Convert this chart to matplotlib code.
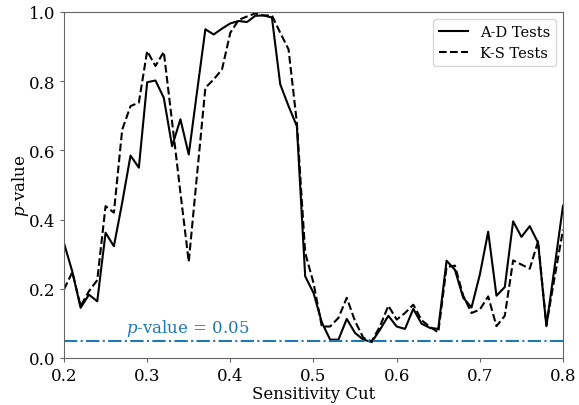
import numpy as np
import matplotlib
matplotlib.use('Agg')
import matplotlib.pyplot as plt

plt.rcParams['font.family'] = 'DejaVu Serif'
plt.rcParams['mathtext.fontset'] = 'dejavuserif'

# sensitivity cuts 0.20 .. 0.80, step 0.01
cuts = np.round(np.arange(0.20, 0.805, 0.01), 2)

ad_p = [0.332, 0.250, 0.145, 0.183, 0.164, 0.362, 0.323, 0.449, 0.585, 0.550,
        0.797, 0.802, 0.752, 0.612, 0.690, 0.588, 0.770, 0.950, 0.935, 0.952,
        0.967, 0.974, 0.971, 0.989, 0.990, 0.984, 0.791, 0.728, 0.670, 0.236,
        0.188, 0.103, 0.053, 0.053, 0.113, 0.072, 0.053, 0.046, 0.082, 0.122,
        0.091, 0.084, 0.142, 0.099, 0.087, 0.084, 0.281, 0.255, 0.174, 0.146,
        0.241, 0.365, 0.180, 0.205, 0.395, 0.350, 0.381, 0.333, 0.092, 0.265,
        0.440]

ks_p = [0.198, 0.248, 0.150, 0.193, 0.225, 0.439, 0.420, 0.660, 0.728, 0.738,
        0.887, 0.844, 0.885, 0.682, 0.478, 0.278, 0.530, 0.781, 0.805, 0.834,
        0.940, 0.977, 0.987, 0.996, 0.990, 0.990, 0.940, 0.892, 0.680, 0.304,
        0.217, 0.091, 0.091, 0.116, 0.174, 0.106, 0.058, 0.048, 0.092, 0.151,
        0.111, 0.130, 0.154, 0.109, 0.090, 0.074, 0.263, 0.267, 0.180, 0.130,
        0.140, 0.178, 0.092, 0.122, 0.282, 0.270, 0.258, 0.337, 0.095, 0.235,
        0.371]

alpha = 0.05

fig = plt.figure(figsize=(5.79, 4.06), dpi=100)
ax = fig.add_axes([0.1105, 0.1158, 0.8619, 0.8522])

ax.plot(cuts, ad_p, 'k-', lw=1.5, label='A-D Tests')
ax.plot(cuts, ks_p, 'k--', lw=1.5, label='K-S Tests')
ax.axhline(alpha, color='C0', ls='-.', lw=1.5)
ax.text(0.275, 0.075, r'$p$-value = 0.05', color='C0', fontsize=12)

ax.set_xlim(0.2, 0.8)
ax.set_ylim(0, 1)
ax.set_xlabel('Sensitivity Cut', fontsize=12, labelpad=1)
ax.set_ylabel(r'$p$-value', fontsize=12, labelpad=-2)
ax.tick_params(labelsize=12, color='0.4', length=3)
for s in ax.spines.values():
    s.set_color('0.4')

ax.legend(loc='upper right', fontsize=10.5)

fig.savefig('out.png', dpi=100)
